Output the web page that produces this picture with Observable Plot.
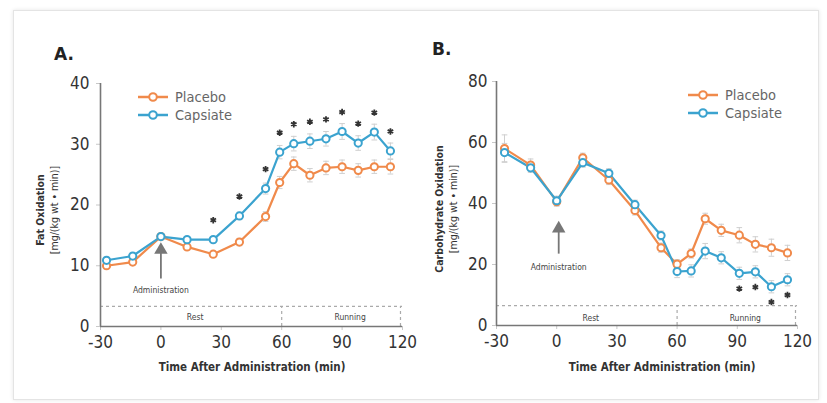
<!DOCTYPE html>
<html><head><meta charset="utf-8">
<script src="https://cdn.jsdelivr.net/npm/d3@7"></script>
<script src="https://cdn.jsdelivr.net/npm/@observablehq/plot@0.6"></script>
<style>
body{margin:0;background:#fff;}
#wrap{position:relative;width:827px;height:403px;overflow:hidden;font-family:"DejaVu Sans Condensed","Liberation Sans Narrow",Roboto,sans-serif;color:#333;}
.card{position:absolute;left:13px;top:10px;width:806px;height:390px;border:1px solid #e4e4e4;box-shadow:0 0 4px rgba(0,0,0,0.10);box-sizing:border-box;}
.panel{position:absolute;top:0;}
.tag{position:absolute;font-weight:bold;font-size:17px;color:#222;font-family:"DejaVu Sans",sans-serif;}
.xt{position:absolute;font-weight:bold;font-size:11.5px;color:#333;white-space:nowrap;transform:translateX(-50%);}
.yt{position:absolute;white-space:nowrap;transform:translate(-50%,-50%) rotate(-90deg);font-size:10.5px;color:#333;text-align:center;line-height:14px;}
.yt b{font-weight:bold;}
.leg{position:absolute;font-size:14.5px;color:#666;line-height:18px;}
.leg div{display:flex;align-items:center;height:18px;}
.leg svg{margin-right:7px;}
</style></head>
<body>
<div id="wrap">
  <div class="card"></div>
</div>
<script>
// ---- data ----
const xTicks = [-30, 0, 30, 60, 90, 120];
const series = ["Placebo", "Capsiate"];
const colors = ["#F08A4B", "#3BA3CF"];

// Panel A: fat oxidation
const timesA = [-27, -14, 0, 13, 26, 39, 52, 59, 66, 74, 82, 90, 98, 106, 114];
const fatPlacebo  = [10.0, 10.6, 14.8, 13.1, 11.9, 13.9, 18.1, 23.7, 26.8, 24.9, 26.1, 26.3, 25.7, 26.3, 26.3];
const fatCapsiate = [10.9, 11.6, 14.8, 14.3, 14.3, 18.2, 22.7, 28.7, 30.1, 30.5, 30.9, 32.1, 30.2, 32.0, 28.9];
const fatErrPlacebo  = [0.5, 0.5, 0.5, 0.5, 0.5, 0.6, 0.8, 1.0, 1.1, 1.1, 1.1, 1.1, 1.1, 1.1, 1.2];
const fatErrCapsiate = [0.5, 0.5, 0.5, 0.5, 0.5, 0.6, 0.9, 1.1, 1.2, 1.2, 1.2, 1.3, 1.2, 1.3, 1.3];
const fatSig = [0, 0, 0, 0, 1, 1, 1, 1, 1, 1, 1, 1, 1, 1, 1];
const fatYTicks = [0, 10, 20, 30, 40];

// Panel B: carbohydrate oxidation
const timesB = [-26, -13, 0, 13, 26, 39, 52, 60, 67, 74, 82, 91, 99, 107, 115];
const choPlacebo  = [58.0, 52.6, 40.6, 55.0, 47.7, 37.7, 25.5, 20.1, 23.6, 35.0, 31.2, 29.6, 26.6, 25.5, 23.8];
const choCapsiate = [56.7, 51.7, 40.9, 53.4, 49.9, 39.6, 29.5, 17.7, 17.9, 24.4, 22.2, 17.1, 17.6, 12.7, 15.0];
const choErrPlacebo  = [4.5, 2.0, 1.5, 1.5, 1.5, 1.5, 1.5, 1.5, 1.5, 1.8, 2.0, 2.5, 2.5, 2.8, 2.5];
const choErrCapsiate = [3.0, 1.5, 1.5, 1.5, 1.5, 1.5, 1.5, 2.0, 2.0, 2.5, 2.0, 2.0, 2.0, 2.0, 2.0];
const choSig = [0, 0, 0, 0, 0, 0, 0, 0, 0, 0, 0, 1, 1, 1, 1];
const choYTicks = [0, 20, 40, 60, 80];

const phaseLabels = ["Rest", "Running"];
const phaseCenters = [17, 94];
const phaseBounds = [60, 119];

// ---- helpers ----
function rows(times, p, c, ep, ec) {
  const out = [];
  times.forEach((t, i) => {
    out.push({t, v: p[i], e: ep[i], s: series[0]});
    out.push({t, v: c[i], e: ec[i], s: series[1]});
  });
  return out;
}

function panel(cfg) {
  const data = rows(cfg.times, cfg.placebo, cfg.capsiate, cfg.errP, cfg.errC);
  const sig = cfg.times.map((t, i) => ({t, v: cfg.capsiate[i], on: cfg.sig[i]})).filter(d => d.on);
  const yMax = cfg.yTicks[cfg.yTicks.length - 1];
  const x0 = xTicks[0], x1 = xTicks[xTicks.length - 1];
  const tickFont = '"Liberation Sans Narrow","DejaVu Sans Condensed",Roboto,sans-serif';
  return Plot.plot({
    width: cfg.width, height: 403,
    marginLeft: cfg.ml, marginRight: cfg.mr, marginTop: cfg.mt, marginBottom: cfg.mb,
    style: {background: "transparent", fontFamily: '"DejaVu Sans Condensed",sans-serif', overflow: "visible"},
    x: {domain: [x0, x1]},
    y: {domain: [0, yMax]},
    color: {domain: series, range: colors},
    marks: [
      Plot.axisX({ticks: xTicks, tickSize: 4, tickPadding: 5, fontSize: 17, fontFamily: tickFont, stroke: "#c8c8c8", fill: "#333", tickFormat: d => String(d), label: null}),
      Plot.axisY({ticks: cfg.yTicks, tickSize: 4, tickPadding: cfg.tp, fontSize: 17, fontFamily: tickFont, stroke: "#c8c8c8", fill: "#333", tickFormat: d => String(d), label: null}),
      // phase box
      Plot.ruleY([cfg.phaseY], {x1: x0, x2: x1, stroke: "#aaa", strokeDasharray: "3,3", strokeWidth: 1.2}),
      Plot.ruleX(phaseBounds, {y1: 0, y2: cfg.phaseY, stroke: "#aaa", strokeDasharray: "3,3", strokeWidth: 1.2}),
      Plot.text(phaseLabels, {x: (d, i) => phaseCenters[i], y: cfg.restY, text: d => d, fontSize: 8.5, fill: "#444"}),
      // administration arrow (shaft + filled head)
      Plot.ruleX([cfg.adminX], {y1: cfg.arrow[0], y2: cfg.arrow[1], stroke: "#777", strokeWidth: 1.8}),
      Plot.dot([cfg.adminX], {x: d => d, y: cfg.arrow[1], symbol: "triangle", r: 5, fill: "#777", stroke: "none"}),
      Plot.text(["Administration"], {x: cfg.adminX, y: cfg.adminY, text: d => d, fontSize: 8.5, fill: "#444"}),
      // axis lines
      Plot.ruleX([x0], {y1: 0, y2: yMax, stroke: "#777", strokeWidth: 1.6}),
      Plot.ruleY([0], {x1: x0, x2: x1, stroke: "#777", strokeWidth: 1.6}),
      // error bars
      Plot.ruleX(data, {x: "t", y1: d => d.v - d.e, y2: d => d.v + d.e, stroke: "#cfcfcf", strokeWidth: 1}),
      Plot.link(data, {x1: d => d.t - 1.4, x2: d => d.t + 1.4, y1: d => d.v + d.e, y2: d => d.v + d.e, stroke: "#cfcfcf", strokeWidth: 1}),
      Plot.link(data, {x1: d => d.t - 1.4, x2: d => d.t + 1.4, y1: d => d.v - d.e, y2: d => d.v - d.e, stroke: "#cfcfcf", strokeWidth: 1}),
      // lines and markers
      Plot.line(data, {x: "t", y: "v", z: "s", stroke: "s", strokeWidth: 2.2}),
      Plot.dot(data, {x: "t", y: "v", stroke: "s", fill: "white", r: 3.6, strokeWidth: 2}),
      // significance
      Plot.dot(sig, {x: "t", y: d => d.v + cfg.sigOffset, symbol: "asterisk", r: 3, stroke: "#333", strokeWidth: 1.8})
    ]
  });
}

function legendHTML(left, top) {
  const el = document.createElement("div");
  el.className = "leg";
  el.style.left = left + "px"; el.style.top = top + "px";
  series.forEach((s, i) => {
    const row = document.createElement("div");
    row.innerHTML = `<svg width="30" height="12"><line x1="0" x2="30" y1="6" y2="6" stroke="${colors[i]}" stroke-width="2.5"/><circle cx="15" cy="6" r="3.8" fill="white" stroke="${colors[i]}" stroke-width="2"/></svg><span>${s}</span>`;
    el.appendChild(row);
  });
  return el;
}

const wrap = document.getElementById("wrap");

const pA = panel({
  width: 413, ml: 100, mr: 11, mt: 83, mb: 77, tp: 7,
  times: timesA, placebo: fatPlacebo, capsiate: fatCapsiate, errP: fatErrPlacebo, errC: fatErrCapsiate,
  sig: fatSig, sigOffset: 3.2, yTicks: fatYTicks,
  phaseY: 3.3, restY: 1.5, adminX: 0, adminY: 6, arrow: [7.8, 12.6]
});
pA.classList.add("panel"); pA.style.left = "0px";
wrap.appendChild(pA);

const pB = panel({
  width: 414, ml: 83, mr: 30, mt: 81, mb: 78, tp: 5,
  times: timesB, placebo: choPlacebo, capsiate: choCapsiate, errP: choErrPlacebo, errC: choErrCapsiate,
  sig: choSig, sigOffset: -5, yTicks: choYTicks,
  phaseY: 6.5, restY: 2.5, adminX: 1, adminY: 19, arrow: [23.4, 31.8]
});
pB.classList.add("panel"); pB.style.left = "413px";
wrap.appendChild(pB);

function addHTML(cls, html, style) {
  const d = document.createElement("div");
  d.className = cls; d.innerHTML = html;
  Object.assign(d.style, style);
  wrap.appendChild(d);
}
addHTML("tag", "A.", {left: "54px", top: "44px"});
addHTML("tag", "B.", {left: "432px", top: "39px"});
addHTML("xt", "Time After Administration (min)", {left: "252px", top: "360px"});
addHTML("xt", "Time After Administration (min)", {left: "662px", top: "360px"});
addHTML("yt", "<b>Fat Oxidation</b><br>[mg/(kg wt • min)]", {left: "47px", top: "210px"});
addHTML("yt", "<b>Carbohydrate Oxidation</b><br>[mg/(kg wt • min)]", {left: "446px", top: "209px"});
wrap.appendChild(legendHTML(138, 88));
wrap.appendChild(legendHTML(688, 86));
</script>
</body></html>
